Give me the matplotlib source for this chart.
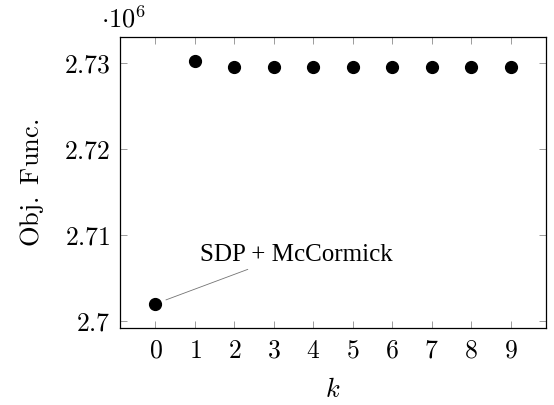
import numpy as np
import matplotlib.pyplot as plt
import matplotlib as mpl

mpl.rc('mathtext', fontset='cm')
mpl.rc('font', family='serif', serif=['DejaVu Serif'], size=13)

k = [0, 1, 2, 3, 4, 5, 6, 7, 8, 9]
obj = [2.70198, 2.73022, 2.72955, 2.72955, 2.72955, 2.72955,
       2.72955, 2.72955, 2.72955, 2.72955]
yticks = [2.70, 2.71, 2.72, 2.73]
ylabels = ['2.7', '2.71', '2.72', '2.73']

fig = plt.figure(figsize=(5.54, 4.05), dpi=100)
ax = fig.add_axes([0.2166, 0.19, 0.769, 0.719])
ax.plot(k, obj, 'o', color='black', markersize=8.5)

ax.set_xlim(-0.9, 9.9)
ax.set_ylim(2.69916, 2.73302)
ax.set_xticks(k)
ax.set_xticklabels(['$%d$' % v for v in k])
ax.set_yticks(yticks)
ax.set_yticklabels(['$%s$' % s for s in ylabels])
ax.tick_params(direction='in', top=True, right=True, length=5, width=0.6,
               color='0.55', labelsize=18.5, pad=7)
for s in ax.spines.values():
    s.set_linewidth(0.9)

ax.set_xlabel('$k$', fontsize=19, labelpad=10)
ax.set_ylabel(r'$\mathrm{Obj.\ Func.}$', fontsize=19, labelpad=13)
ax.text(-0.045, 1.015, r'$\cdot 10^{6}$', transform=ax.transAxes, fontsize=19,
        ha='left', va='bottom')

ax.annotate('SDP + McCormick', xy=(k[0], obj[0]), xytext=(1.13, 2.7077),
            fontfamily='Liberation Serif', fontsize=18, va='center', ha='left',
            arrowprops=dict(arrowstyle='-', color='0.45', lw=0.6,
                            shrinkA=2, shrinkB=8,
                            relpos=(0.3, 0.0)))

fig.savefig('out.png', dpi=100)
